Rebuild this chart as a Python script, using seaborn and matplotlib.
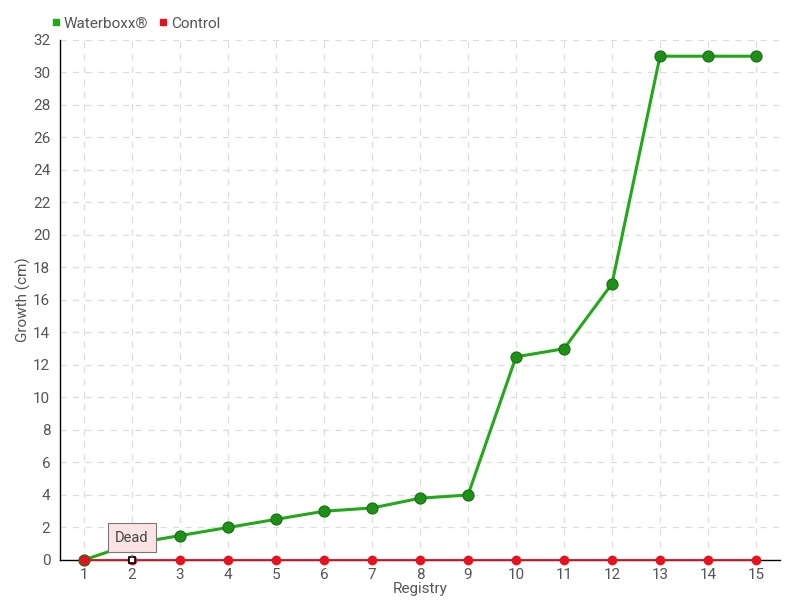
import numpy as np
import pandas as pd
import seaborn as sns
import matplotlib.pyplot as plt
from matplotlib.lines import Line2D

registry = list(range(1, 16))
waterboxx = [0, 1, 1.5, 2, 2.5, 3, 3.2, 3.8, 4, 12.5, 13, 17, 31, 31, 31]
control = [0] * 15
dead_registry = 2

sns.set_theme(style="white")
plt.rcParams['font.family'] = ['Roboto', 'DejaVu Sans']

df = pd.DataFrame({"Registry": registry * 2,
                   "Growth": waterboxx + control,
                   "Group": ["Waterboxx®"] * 15 + ["Control"] * 15})

fig = plt.figure(figsize=(8, 6), dpi=100)
ax = fig.add_axes([0.075, 0.0667, 0.9, 0.8667])

green = "#22a818"
red = "#e8101e"
sns.lineplot(data=df[df.Group == "Waterboxx®"], x="Registry", y="Growth", color=green,
             lw=2.2, marker="o", markersize=8, markeredgecolor="#1a6e14",
             markeredgewidth=0.8, markerfacecolor="#1f9017", ax=ax, zorder=4, clip_on=False)
sns.lineplot(data=df[df.Group == "Control"], x="Registry", y="Growth", color=red,
             lw=1.3, marker="o", markersize=7, markeredgewidth=0, ax=ax, zorder=5, clip_on=False)
# dead control plant
ax.plot([dead_registry], [0], marker="s", ms=5, mfc="white", mec="black", mew=1.2,
        zorder=6, ls="", clip_on=False)
ax.annotate("Dead", xy=(dead_registry, 0), xytext=(0, 16), textcoords="offset points",
            ha="center", va="center", fontsize=10.5, color="#444444", zorder=7,
            bbox=dict(boxstyle="square,pad=0.5", fc="#fde4e4", ec="#777777", lw=0.8),
            arrowprops=dict(arrowstyle="-", color="#777777", lw=0.8))

ax.set_xlim(0.5, 15.5)
ax.set_ylim(0, 32)
ax.set_xticks(registry)
ax.set_yticks(range(0, 33, 2))
ax.grid(True, ls=(0, (5, 5)), color="#dddddd", lw=0.9)
for s in ["top", "right"]:
    ax.spines[s].set_visible(False)
for s in ["left", "bottom"]:
    ax.spines[s].set_color("black")
    ax.spines[s].set_linewidth(1)
    ax.spines[s].set_zorder(2)
ax.tick_params(axis="both", colors="#555555", labelsize=11, length=4)
ax.tick_params(axis="y", direction="out", length=4, color="black", pad=3)
ax.tick_params(axis="x", direction="out", color="#888888", length=5, pad=1)
ax.set_xlabel("Registry", fontsize=11, color="#555555", labelpad=0)
ax.set_ylabel("Growth (cm)", fontsize=11, color="#555555", labelpad=1)
if ax.get_legend():
    ax.get_legend().remove()

handles = [Line2D([], [], ls="", marker="s", ms=5, color=green, label="Waterboxx®"),
           Line2D([], [], ls="", marker="s", ms=5, color=red, label="Control")]
fig.legend(handles=handles, loc="upper left", bbox_to_anchor=(0.045, 0.995), ncol=2,
           frameon=False, fontsize=11, handletextpad=0.1, columnspacing=0.6,
           labelcolor="#555555", handlelength=0.8)

fig.savefig("out.png", dpi=100)
